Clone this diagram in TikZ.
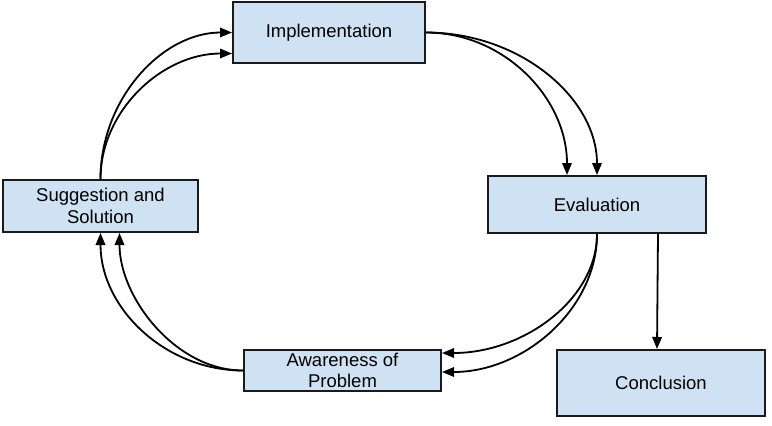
\documentclass[tikz,border=0pt]{standalone}
\usepackage{fontspec}
\setmainfont{Liberation Sans}
\usetikzlibrary{arrows.meta,calc}
\definecolor{boxfill}{HTML}{CFE2F3}
\definecolor{boxline}{HTML}{1A1A1A}
\begin{document}
\begin{tikzpicture}[x=1pt,y=-1pt,
  box/.style={draw=boxline,fill=boxfill,line width=2pt,rectangle,inner sep=0pt,
    align=center,font=\fontsize{18.5}{21.7}\selectfont},
  conn/.style={draw=black,line width=1.8pt,-{Triangle[length=12pt,width=9.5pt]}}]
\useasboundingbox (0,0) rectangle (772,426);
\node[box,minimum width=192,minimum height=61] (impl) at (329,32.5) {Implementation};
\node[box,minimum width=218,minimum height=57] (eval) at (597,204.5) {Evaluation};
\node[box,minimum width=195,minimum height=52] (sugg) at (100.5,206) {Suggestion and\\Solution};
\node[box,minimum width=197,minimum height=41] (aware) at (342.5,370.5) {Awareness of\\Problem};
\node[box,minimum width=208,minimum height=66] (concl) at (661,383) {Conclusion};
% Implementation -> Evaluation
\draw[conn] (impl.east) .. controls +(78,0) and +(0,-77) .. ($(eval.north)+(-30,0)$);
\draw[conn] (impl.east) .. controls +(94,0) and +(0,-77) .. (eval.north);
% Evaluation -> Awareness
\draw[conn] (eval.south) .. controls +(0,65) and +(82,0) .. ($(aware.east)+(0,-17.5)$);
\draw[conn] (eval.south) .. controls +(0,75) and +(82,0) .. ($(aware.east)+(0,1.5)$);
% Awareness -> Suggestion
\draw[conn] (aware.west) .. controls +(-78,0) and +(0,75) .. (sugg.south);
\draw[conn] (aware.west) .. controls +(-67,0) and +(0,65) .. ($(sugg.south)+(19,0)$);
% Suggestion -> Implementation
\draw[conn] (sugg.north) .. controls +(0,-80) and +(-70,0) .. (impl.west);
\draw[conn] (sugg.north) .. controls +(0,-68) and +(-70,0) .. ($(impl.west)+(0,21)$);
% Evaluation -> Conclusion
\draw[conn] ($(eval.south)+(61,0)$) -- ($(concl.north)+(-4,0)$);
\end{tikzpicture}
\end{document}
